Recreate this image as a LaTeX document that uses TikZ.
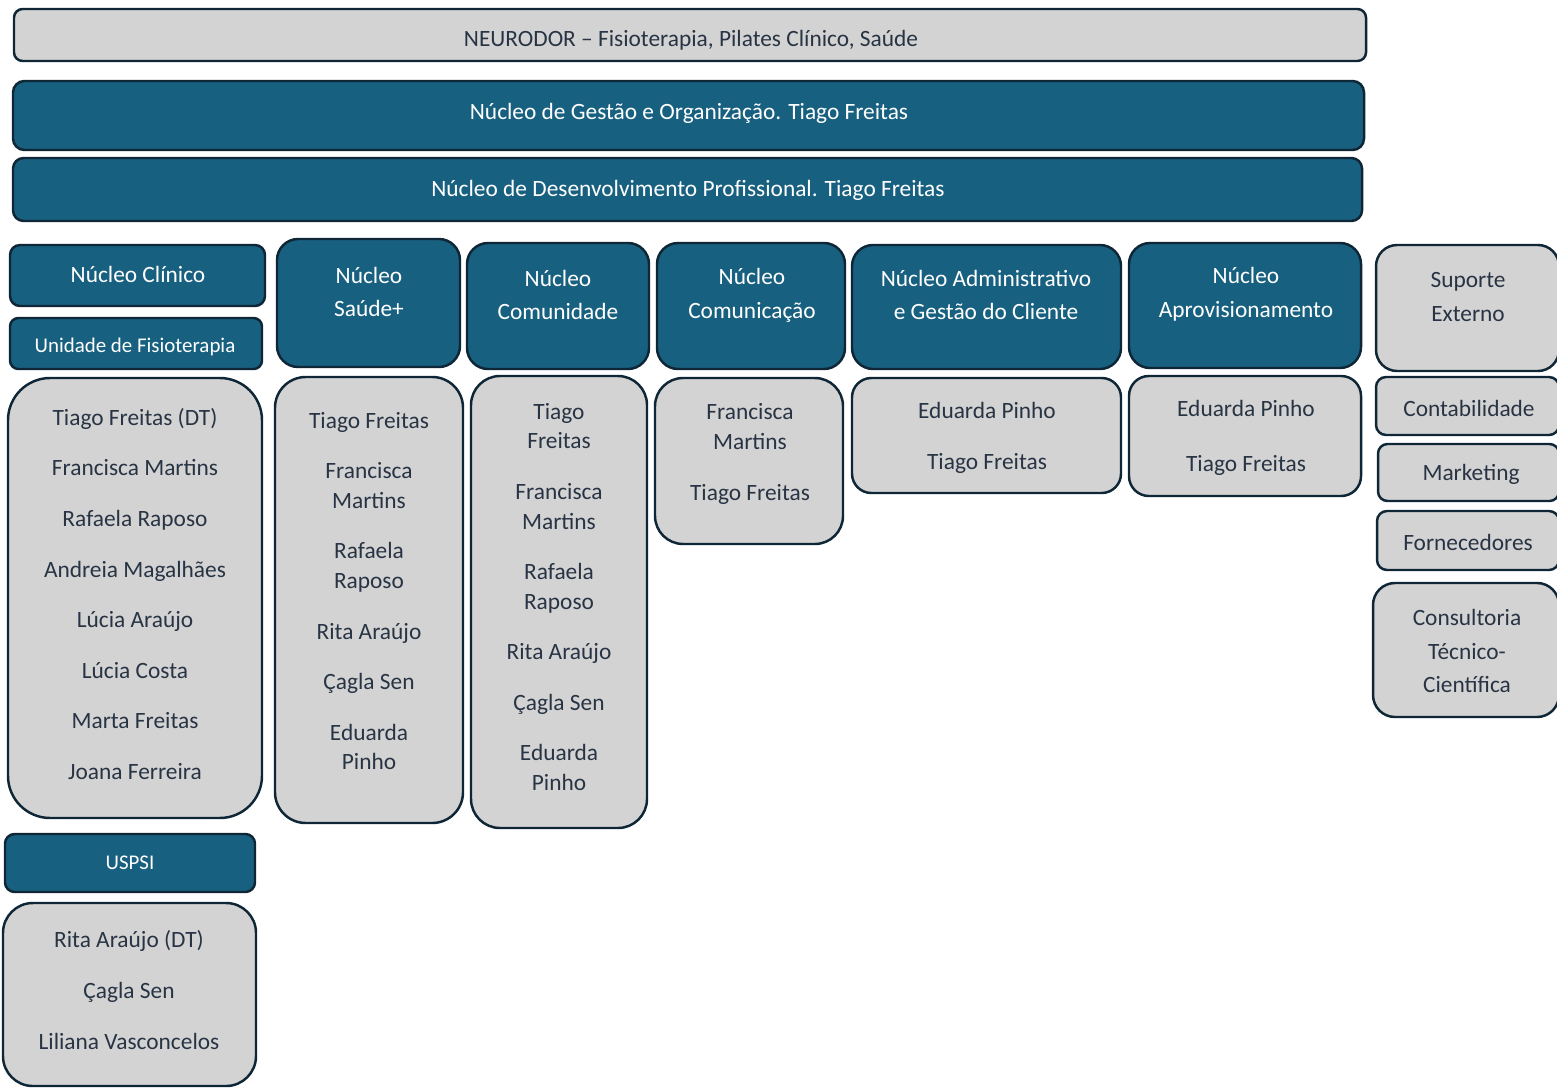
\documentclass[tikz,border=0pt]{standalone}
\usepackage{fontspec}
\setmainfont{Carlito}
\usetikzlibrary{fit,positioning}
\definecolor{nucleo}{RGB}{24,96,128}
\definecolor{rim}{RGB}{14,38,54}
\definecolor{cinza}{RGB}{211,211,211}
\definecolor{nome}{RGB}{40,52,68}

\begin{document}
\begin{tikzpicture}[x=0.02cm, y=-0.02cm]
    \tikzstyle{navy}=[rectangle, draw=rim, fill=nucleo, line width=1.4pt, inner sep=0pt]
    \tikzstyle{grey}=[rectangle, draw=rim, fill=cinza, line width=1.4pt, inner sep=0pt]
    \tikzstyle{head}=[text=white, align=center, font=\fontsize{13.3}{19.3}\selectfont]
    \tikzstyle{small}=[text=white, align=center, font=\fontsize{11.9}{14}\selectfont]
    \tikzstyle{names}=[text=nome, align=center, font=\fontsize{13.3}{16.8}\selectfont]
    \tikzstyle{ext}=[text=nome, align=center, font=\fontsize{13.3}{19.3}\selectfont]
    \useasboundingbox (0,0) rectangle (1557,1088);
      % top bands
      \node[grey, rounded corners=4.9pt, fit={(14,9) (1366,61)}] (neuro) {};
      \node[names] (neuro-t) at (691,40) {NEURODOR – Fisioterapia, Pilates Clínico, Saúde};
      \node[navy, rounded corners=6.5pt, fit={(13,81) (1364,150)}] (gestao) {};
      \node[head] (gestao-t) at (689,113) {Núcleo de Gestão e Organização. Tiago Freitas};
      \node[navy, rounded corners=6pt, fit={(13,158) (1362,221)}] (desenv) {};
      \node[head] (desenv-t) at (688,190) {Núcleo de Desenvolvimento Profissional. Tiago Freitas};
      % clinico
      \node[navy, rounded corners=5.7pt, fit={(10,245) (265,306)}] (clin) {};
      \node[head] (clin-t) at (138,274) {Núcleo Clínico};
      \node[navy, rounded corners=4.8pt, fit={(10,318) (262,369)}] (unid) {};
      \node[small] (unid-t) at (135,347) {Unidade de Fisioterapia};
      \node[grey, rounded corners=24pt, fit={(8,378) (262,818)}] (clinL) {};
      \node[names] (clinL-t) at (135,594) {Tiago Freitas (DT)\\[12pt]Francisca Martins\\[12pt]Rafaela Raposo\\[12pt]Andreia Magalhães\\[12pt]Lúcia Araújo\\[12pt]Lúcia Costa\\[12pt]Marta Freitas\\[12pt]Joana Ferreira};
      \node[navy, rounded corners=5.5pt, fit={(5,834) (255,892)}] (uspsi) {};
      \node[small] (uspsi-t) at (130,863) {USPSI};
      \node[grey, rounded corners=17pt, fit={(3,903) (256,1086)}] (uspsiL) {};
      \node[names] (uspsiL-t) at (129,990) {Rita Araújo (DT)\\[12pt]Çagla Sen\\[12pt]Liliana Vasconcelos};
      % saude+
      \node[navy, rounded corners=12pt, fit={(277,239) (460,367)}] (saude) {};
      \node[head] (saude-t) at (369,292) {Núcleo\\Saúde+};
      \node[grey, rounded corners=17.5pt, fit={(275,377) (463,823)}] (saudeL) {};
      \node[names] (saudeL-t) at (369,591) {Tiago Freitas\\[12pt]Francisca\\Martins\\[12pt]Rafaela\\Raposo\\[12pt]Rita Araújo\\[12pt]Çagla Sen\\[12pt]Eduarda\\Pinho};
      % comunidade
      \node[navy, rounded corners=12pt, fit={(467,243) (649,369)}] (comu) {};
      \node[head] (comu-t) at (558,295) {Núcleo\\Comunidade};
      \node[grey, rounded corners=16.5pt, fit={(471,376) (647,828)}] (comuL) {};
      \node[names] (comuL-t) at (559,597) {Tiago\\Freitas\\[12pt]Francisca\\Martins\\[12pt]Rafaela\\Raposo\\[12pt]Rita Araújo\\[12pt]Çagla Sen\\[12pt]Eduarda\\Pinho};
      % comunicacao
      \node[navy, rounded corners=12pt, fit={(657,243) (845,369)}] (comc) {};
      \node[head] (comc-t) at (752,295) {Núcleo\\Comunicação};
      \node[grey, rounded corners=16pt, fit={(655,378) (843,544)}] (comcL) {};
      \node[names] (comcL-t) at (750,454) {Francisca\\Martins\\[12pt]Tiago Freitas};
      % administrativo
      \node[navy, rounded corners=12pt, fit={(852,245) (1121,369)}] (admin) {};
      \node[head] (admin-t) at (986,295) {Núcleo Administrativo\\e Gestão do Cliente};
      \node[grey, rounded corners=11pt, fit={(852,378) (1121,493)}] (adminL) {};
      \node[names] (adminL-t) at (987,438) {Eduarda Pinho\\[12pt]Tiago Freitas};
      % aprovisionamento
      \node[navy, rounded corners=12pt, fit={(1129,243) (1361,368)}] (aprov) {};
      \node[head] (aprov-t) at (1246,294) {Núcleo\\Aprovisionamento};
      \node[grey, rounded corners=11.3pt, fit={(1129,376) (1361,496)}] (aprovL) {};
      \node[names] (aprovL-t) at (1246,438) {Eduarda Pinho\\[14.4pt]Tiago Freitas};
      % suporte externo
      \node[grey, rounded corners=12pt, fit={(1376,245) (1559,371)}] (sup) {};
      \node[ext] (sup-t) at (1468,297) {Suporte\\Externo};
      \node[grey, rounded corners=5.7pt, fit={(1376,377) (1559,435)}] (cont) {};
      \node[ext] (cont-t) at (1469,408) {Contabilidade};
      \node[grey, rounded corners=5.4pt, fit={(1378,444) (1559,501)}] (mkt) {};
      \node[ext] (mkt-t) at (1471,474) {Marketing};
      \node[grey, rounded corners=5.7pt, fit={(1377,511) (1559,570)}] (forn) {};
      \node[ext] (forn-t) at (1468,542) {Fornecedores};
      \node[grey, rounded corners=12.5pt, fit={(1373,583) (1559,717)}] (cons) {};
      \node[ext] (cons-t) at (1467,651) {Consultoria\\Técnico-\\Científica};
\end{tikzpicture}
\end{document}
